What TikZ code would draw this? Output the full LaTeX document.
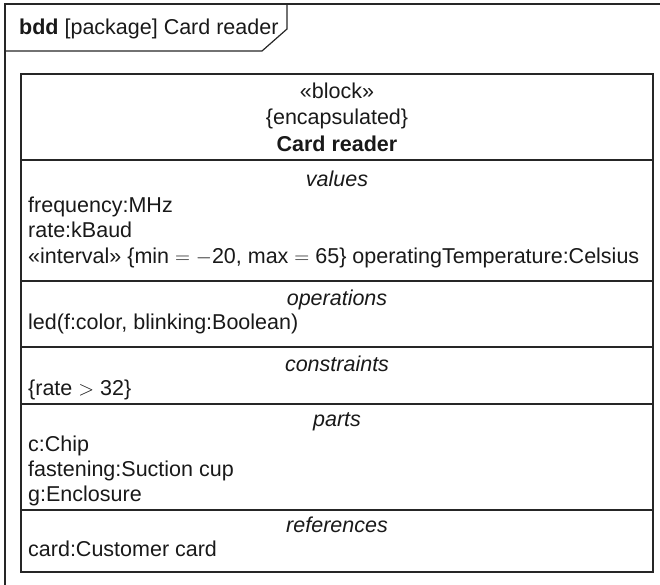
\documentclass[tikz,border=0pt]{standalone}
\usepackage{fontspec}
\setmainfont{Liberation Sans}
\begin{document}
\begin{tikzpicture}[x=1pt,y=-1pt,
  frameline/.style={line width=1.2pt,draw=black!85},
  txt/.style={inner sep=0pt,font=\fontsize{21.5}{24}\selectfont,text=black!90},
  lefttxt/.style={txt,anchor=base west},
  midtxt/.style={txt,anchor=base}]
\useasboundingbox (0,0) rectangle (660,584);
% outer frame
\draw[frameline] (5,590) -- (5,4) -- (665,4);
\draw[frameline] (5,51) -- (262,51) -- (287,29) -- (287,4);
\node[lefttxt] (title) at (19,34) {\textbf{bdd} [package] Card reader};
% block
\draw[frameline] (21,74) rectangle (653,572);
\coordinate (L1) at (21,160); \coordinate (R1) at (653,160);
\coordinate (L2) at (21,281); \coordinate (R2) at (653,281);
\coordinate (L3) at (21,347); \coordinate (R3) at (653,347);
\coordinate (L4) at (21,404); \coordinate (R4) at (653,404);
\coordinate (L5) at (21,510); \coordinate (R5) at (653,510);
\draw[frameline] (L1) -- (R1) (L2) -- (R2) (L3) -- (R3) (L4) -- (R4) (L5) -- (R5);
% header
\node[midtxt] (st) at (337,98) {«block»};
\node[midtxt] (enc) at (337,124) {\{encapsulated\}};
\node[midtxt] (name) at (337,151) {\textbf{Card reader}};
% values
\node[midtxt] (vh) at (337,186) {\textit{values}};
\node[lefttxt] (v1) at (28,212) {frequency:MHz};
\node[lefttxt] (v2) at (28,237) {rate:kBaud};
\node[lefttxt] (v3) at (28,263) {«interval» \{min $=-$20, max $=$ 65\} operatingTemperature:Celsius};
% operations
\node[midtxt] (oh) at (337,305) {\textit{operations}};
\node[lefttxt] (o1) at (28,329) {led(f:color, blinking:Boolean)};
% constraints
\node[midtxt] (ch) at (337,371) {\textit{constraints}};
\node[lefttxt] (c1) at (28,395) {\{rate $>$ 32\}};
% parts
\node[midtxt] (ph) at (337,426) {\textit{parts}};
\node[lefttxt] (p1) at (28,451) {c:Chip};
\node[lefttxt] (p2) at (28,476) {fastening:Suction cup};
\node[lefttxt] (p3) at (28,501) {g:Enclosure};
% references
\node[midtxt] (rh) at (337,532) {\textit{references}};
\node[lefttxt] (r1) at (28,556) {card:Customer card};
\end{tikzpicture}
\end{document}
